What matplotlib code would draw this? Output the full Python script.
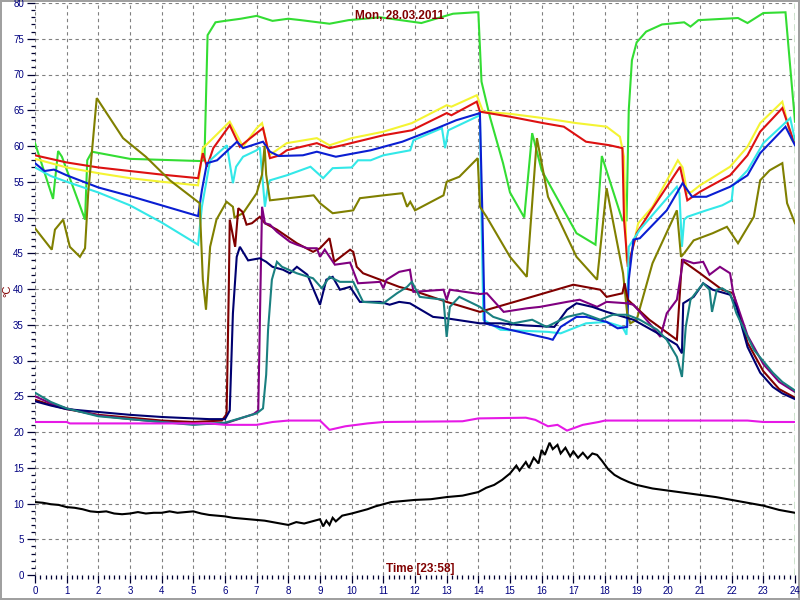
import numpy as np
import matplotlib
matplotlib.use('Agg')
import matplotlib.pyplot as plt
from matplotlib.ticker import MultipleLocator

# hours / temperatures
green_h = [0, 0.57, 0.73, 0.85, 1.58, 1.65, 1.8, 3, 5.2, 5.35, 5.45, 5.7, 6, 6.5, 7, 7.5, 8, 8.4, 9.3, 9.9, 10.9,
           12.2, 13.2, 13.9, 14.0, 14.1, 14.37, 14.78, 15.0, 15.45, 15.7, 16.0, 17.1, 17.7, 17.9, 18.55, 18.68,
           18.75, 18.85, 19.0, 19.3, 19.8, 20.5, 20.7, 20.95, 22.2, 22.5, 23.0, 23.7, 23.85, 24]
green_v = [60.4, 52.6, 59.3, 58.5, 49.7, 58, 59.2, 58.2, 57.9, 58, 75.5, 77.3, 77.5, 77.8, 78.2, 77.5, 77.8, 77.6,
           77.1, 77.6, 78, 77.2, 78.5, 78.7, 78.7, 69, 64, 57.6, 53.5, 50, 61.8, 56.6, 47.8, 46.2, 58.6, 49.6,
           49.6, 65, 72, 74.5, 76, 77, 77.3, 76.7, 77.6, 77.9, 77.2, 78.6, 78.7, 71, 63.4]

yellow_h = [0, 1, 2, 3, 4, 5.15, 5.3, 5.6, 6.15, 6.57, 7.0, 7.17, 7.4, 7.95, 8.9, 9.3, 10, 11, 11.9, 13, 13.15,
            13.95, 14.15, 15, 16.05, 17.1, 18.05, 18.47, 18.6, 18.68, 18.75, 19.05, 19.5, 20.3, 20.45, 20.6,
            20.74, 21, 21.95, 22.5, 22.9, 23.6, 23.9, 24]
yellow_v = [58.2, 57, 56.2, 55.5, 55, 54.5, 59.7, 61, 63.4, 59.9, 62.5, 63.2, 58.7, 60.4, 61.1, 60.1, 61.1, 62,
            63.2, 65.7, 65.5, 67.1, 64.8, 64.5, 63.9, 63.2, 62.7, 61.3, 58.5, 44, 43.3, 49.2, 51.5, 58, 57, 53.4,
            53.6, 54.5, 57.1, 59.9, 63.2, 66.2, 60.8, 60.6]

red_h = [0, 1, 2, 3, 4, 5.15, 5.3, 5.43, 5.63, 6.15, 6.47, 6.8, 7.2, 7.42, 7.73, 7.95, 8.9, 9.3, 9.7, 11, 11.9,
         13, 13.15, 13.95, 14.05, 15, 16.05, 16.7, 17.4, 18.15, 18.55, 18.6, 18.72, 19.0, 19.4, 20.37, 20.6,
         21, 21.95, 22.5, 22.9, 23.6, 23.95, 24]
red_v = [58.7, 57.7, 57.0, 56.5, 56.0, 55.5, 59, 57.1, 59.7, 62.9, 59.9, 61.1, 62.5, 58.3, 58.7, 59.4, 60.4, 59.7,
         60.1, 61.5, 62.2, 64.6, 64.3, 66.2, 64.8, 64.1, 63.2, 62.7, 60.6, 60.1, 59.7, 49.7, 43.1, 47.8, 50.6,
         57.1, 52.4, 53.6, 55.9, 58.7, 62, 65.3, 60.8, 60.5]

cyan_h = [0, 0.5, 1, 2, 3, 4, 5.15, 5.27, 5.53, 6.06, 6.25, 6.35, 6.57, 7.0, 7.1, 7.26, 7.36, 7.42, 7.95, 8.7,
          9.1, 9.4, 10.0, 10.2, 10.6, 11, 11.85, 11.95, 12.85, 12.95, 13.05, 14.05, 14.1, 14.16, 14.7, 16.2,
          16.6, 17.4, 18.05, 18.55, 18.68, 18.75, 19.1, 20.27, 20.35, 20.43, 20.5, 20.6, 21.2, 21.7, 22.0,
          22.05, 22.5, 23, 23.85, 24]
cyan_v = [57, 55.8, 55, 53.5, 51.7, 49.3, 46.2, 51.5, 58, 60.1, 54.8, 57.1, 58.5, 59.4, 59.8, 51.5, 54.5, 55.2,
          55.9, 57.1, 55.5, 56.9, 57, 58, 58, 58.7, 59.4, 60.8, 62.5, 59.7, 62.2, 64.3, 50, 35.7, 34.3, 34,
          33.8, 35.2, 35.4, 34.7, 33.6, 45.9, 48.3, 54.3, 53.4, 45.9, 49.7, 50.1, 51, 51.7, 52.4, 54.5, 56.6,
          60.4, 63.9, 60.8]

blue_h = [0, 0.3, 0.6, 1, 2, 3, 4, 5.15, 5.27, 5.43, 5.75, 6.38, 6.57, 7.2, 7.42, 7.7, 8.46, 8.9, 9.5, 10.6,
          11.6, 12.7, 13.3, 14.05, 14.13, 14.2, 15, 16.2, 16.35, 16.6, 17.1, 17.4, 18.05, 18.4, 18.7, 18.75,
          18.9, 19.1, 19.95, 20.45, 20.75, 21.2, 21.95, 22.5, 22.9, 23.7, 24]
blue_v = [57.6, 56.5, 56.7, 55.9, 54.2, 53, 51.7, 50.2, 53.8, 57.6, 58, 60.6, 59.7, 60.6, 59.2, 58.6, 58.7, 59.2,
          58.5, 59.4, 60.6, 62.5, 63.6, 64.6, 50, 35.2, 34.3, 33.1, 32.9, 34.7, 36.1, 36.1, 35.4, 34.5, 34.7,
          41.3, 46.9, 47.1, 51, 54.8, 52.9, 52.9, 54.3, 55.9, 59, 62.7, 60.1]

olive_h = [0, 0.53, 0.63, 0.89, 1.1, 1.42, 1.58, 1.68, 1.95, 2.78, 3.5, 4.26, 5.2, 5.3, 5.4, 5.53, 5.73, 6.05,
           6.25, 6.3, 6.57, 7.0, 7.17, 7.25, 7.3, 7.42, 8.8, 9, 9.4, 10.05, 10.26, 11, 11.6, 11.75, 11.85, 12,
           12.9, 13, 13.4, 13.98, 14.05, 14.26, 15, 15.53, 15.6, 15.85, 16.2, 17.1, 17.75, 18.05, 18.57, 18.7,
           18.8, 19, 19.5, 20.27, 20.4, 20.5, 20.8, 21.4, 21.85, 22.2, 22.7, 22.9, 23.2, 23.6, 23.75, 24]
olive_v = [48.5, 45.5, 48.3, 49.7, 45.9, 44.5, 45.7, 53.4, 66.7, 61.1, 58.5, 55.2, 52, 41.3, 37.1, 45.9, 49.7,
           52.2, 51.5, 50, 50.6, 53.4, 56, 60, 56, 52.4, 53.1, 52, 50.6, 51, 52.7, 53.1, 53.4, 51.5, 52.2, 51,
           53.1, 55, 55.7, 58.3, 51.5, 50.1, 44.5, 41.7, 45.9, 61.1, 52.9, 44.5, 41.3, 54.1, 42.2, 36.6, 35.2,
           35.7, 43.6, 51, 44.5, 45, 46.8, 47.8, 48.7, 46.4, 50.1, 55.2, 56.6, 57.6, 52, 49.2]

maroon_h = [0, 0.5, 1, 2, 3, 4, 5, 5.9, 6.05, 6.12, 6.15, 6.32, 6.42, 6.55, 6.68, 6.85, 7.1, 7.26, 7.64, 8.27,
            8.78, 9.0, 9.3, 9.45, 9.95, 10.05, 10.16, 10.36, 11.5, 11.84, 12.06, 13.0, 14.05, 15.53, 17.0, 17.85,
            18.05, 18.55, 18.62, 18.72, 19.4, 20.27, 20.43, 21.0, 21.7, 22.05, 22.5, 23, 23.5, 24]
maroon_v = [24.5, 23.8, 23.2, 22.4, 22, 21.6, 21.4, 21.6, 22.5, 40, 49.7, 45.9, 51.3, 50.8, 49, 49.2, 50.1, 49.2,
            48.3, 46.4, 45.2, 45.7, 47.1, 43.8, 45.5, 45.2, 43.1, 42.2, 40.3, 39.9, 39.6, 38.2, 36.8, 38.7, 40.6,
            39.9, 38.9, 39.4, 40.8, 38.5, 35.7, 32.9, 44, 42.2, 39.9, 39.4, 32.5, 28.5, 26, 24.8]

purple_h = [0, 0.5, 1, 2, 3, 4, 5, 6, 6.9, 7.05, 7.12, 7.17, 7.26, 7.42, 7.64, 8.05, 8.27, 8.6, 8.9, 9.0, 9.15,
            9.47, 9.95, 10.2, 10.9, 11.0, 11.1, 11.5, 11.84, 11.95, 12.9, 13.0, 13.1, 14.05, 14.27, 14.8, 15.53,
            15.95, 16.8, 17.2, 17.75, 18.05, 18.7, 18.9, 19.5, 19.75, 19.95, 20.27, 20.47, 20.8, 21.1, 21.3,
            21.63, 21.95, 22.05, 22.5, 23, 23.5, 24]
purple_v = [25, 24, 23.3, 22.3, 21.8, 21.4, 21.1, 21.2, 22.5, 23, 40, 51.5, 49.2, 49, 48, 46.6, 46.2, 45.7, 45.7,
            44.5, 45.5, 43.4, 43.7, 40.8, 41, 40.1, 41.3, 42.4, 42.7, 39.6, 39.9, 38.5, 39.9, 39.3, 39.4, 36.8,
            37.3, 37.5, 38.2, 38.5, 37.5, 38.2, 38, 37.8, 34.7, 33.3, 36.6, 38.5, 44.1, 43.6, 43.8, 42, 43.1,
            42.2, 39.4, 33.5, 29.5, 27, 25.6]

navy_h = [0, 0.5, 1, 2, 3, 4, 5, 5.5, 6.0, 6.15, 6.25, 6.37, 6.47, 6.73, 7.1, 7.3, 7.5, 7.83, 8.05, 8.27, 8.45,
          8.6, 8.8, 9.0, 9.2, 9.4, 9.63, 9.95, 10.26, 10.9, 11.2, 11.5, 11.84, 12.57, 13, 14.05, 14.7, 15.5,
          16.4, 16.8, 17.1, 17.6, 18.05, 18.9, 19.75, 20.27, 20.43, 20.47, 20.8, 21.1, 21.4, 21.95, 22.15,
          22.5, 22.9, 23.3, 23.6, 24]
navy_v = [24.3, 23.7, 23.2, 22.8, 22.4, 22.1, 21.9, 21.8, 21.8, 23, 36.6, 44.5, 45.9, 44, 44.3, 43.8, 43.1, 42.7,
          42.2, 43.1, 42.5, 42, 39.9, 37.8, 41.3, 41.7, 39.9, 40.3, 38.2, 38.2, 37.8, 38.2, 38, 36.1, 35.9,
          35.2, 35.2, 34.9, 34.7, 37.1, 38, 37.5, 36.8, 35.7, 33.6, 32.2, 31, 38, 38.9, 40.8, 39.9, 39.2, 37.5,
          31.9, 28.3, 26.3, 25.4, 24.6]

teal_h = [0, 0.5, 1, 2, 3, 4, 5, 6, 7, 7.2, 7.3, 7.36, 7.48, 7.64, 7.8, 8.27, 8.78, 9.06, 9.3, 9.63, 10.05,
          10.36, 11, 11.43, 11.75, 11.9, 12.15, 12.9, 13.0, 13.1, 13.4, 14.05, 14.47, 15.1, 15.7, 16.15, 16.8,
          17.3, 17.85, 18.25, 18.7, 19.1, 19.65, 19.95, 20.27, 20.43, 20.55, 20.7, 21.1, 21.3, 21.38, 21.53,
          21.7, 21.95, 22.15, 22.7, 23.3, 23.6, 24]
teal_v = [25.5, 24.2, 23.3, 22.2, 21.8, 21.4, 21.0, 21.3, 22.6, 23.3, 28, 34.3, 41.3, 43.8, 43.1, 42.2, 41.5,
          40.1, 41.7, 41, 41, 38.2, 38, 39.4, 40.3, 41, 38.9, 38.5, 33.3, 37.5, 38.9, 37.5, 36.1, 35.2, 35.7,
          34.7, 36.1, 36.6, 35.7, 36.4, 36.4, 35.7, 34.3, 32.9, 30.5, 27.7, 34.7, 38.5, 40.8, 39.9, 36.8, 39.9,
          40.1, 39.4, 36.6, 31.5, 28.3, 27, 25.8]

magenta_h = [0, 1, 1.1, 5.5, 6.0, 7.0, 7.5, 8, 9.0, 9.3, 9.8, 10.5, 11, 13.5, 14, 15.5, 15.8, 16.2, 16.5, 16.8,
             17.3, 17.8, 18, 22.5, 23, 24]
magenta_v = [21.4, 21.4, 21.2, 21.2, 21.0, 21.0, 21.4, 21.6, 21.6, 20.3, 20.8, 21.2, 21.4, 21.5, 21.9, 22.0,
             21.7, 20.8, 21.0, 20.2, 21.0, 21.4, 21.6, 21.6, 21.4, 21.4]

black_h = [0, 0.25, 0.5, 0.75, 1.0, 1.25, 1.5, 1.75, 2.0, 2.25, 2.5, 2.75, 3.0, 3.25, 3.5, 3.75, 4.0, 4.25, 4.5,
           4.75, 5.0, 5.25, 5.5, 5.75, 6.0, 6.25, 6.5, 6.75, 7.0, 7.25, 7.5, 7.75, 8.0, 8.25, 8.5, 8.75, 9.0,
           9.1, 9.2, 9.3, 9.4, 9.5, 9.7, 10.0, 10.25, 10.5, 10.75, 11.0, 11.25, 11.5, 11.75, 12, 12.5, 13,
           13.5, 14, 14.25, 14.5, 14.75, 15, 15.2, 15.3, 15.5, 15.6, 15.75, 15.9, 16.0, 16.1, 16.25, 16.35,
           16.5, 16.6, 16.75, 16.9, 17.0, 17.15, 17.3, 17.45, 17.6, 17.75, 17.9, 18.1, 18.3, 18.5, 18.75, 19,
           19.5, 20, 20.5, 21, 21.5, 22, 22.5, 23, 23.5, 24]
black_v = [10.2, 10.1, 9.9, 9.8, 9.5, 9.4, 9.2, 8.9, 8.8, 8.9, 8.6, 8.5, 8.6, 8.8, 8.6, 8.7, 8.7, 8.9, 8.7, 8.8,
           8.9, 8.6, 8.4, 8.3, 8.2, 8.0, 7.9, 7.8, 7.7, 7.6, 7.4, 7.2, 7.0, 7.4, 7.2, 7.5, 7.8, 6.8, 7.6, 7.0,
           8.0, 7.5, 8.3, 8.6, 8.9, 9.2, 9.6, 9.9, 10.2, 10.3, 10.4, 10.5, 10.6, 10.9, 11.1, 11.6, 12.2, 12.6,
           13.3, 14.2, 15.3, 14.6, 15.8, 15.0, 16.4, 15.6, 17.5, 16.8, 18.5, 17.6, 18.2, 17.0, 17.8, 16.6,
           17.3, 16.4, 17.1, 16.3, 17.0, 16.8, 16.0, 14.8, 14.0, 13.5, 13.0, 12.6, 12.1, 11.8, 11.5, 11.2,
           10.9, 10.5, 10.1, 9.7, 9.1, 8.7]

series = [
    (green_h, green_v, '#33dd33'),
    (yellow_h, yellow_v, '#f4f433'),
    (red_h, red_v, '#dd1111'),
    (cyan_h, cyan_v, '#33e8e8'),
    (blue_h, blue_v, '#0a1ed2'),
    (olive_h, olive_v, '#808000'),
    (maroon_h, maroon_v, '#800000'),
    (purple_h, purple_v, '#800080'),
    (navy_h, navy_v, '#000070'),
    (teal_h, teal_v, '#1a8080'),
    (magenta_h, magenta_v, '#e619e6'),
    (black_h, black_v, '#000000'),
]

fig = plt.figure(figsize=(8, 6), dpi=100)
fig.patch.set_edgecolor('#a0a0a0')
fig.patch.set_linewidth(1.5)
ax = fig.add_axes([35 / 800, 25 / 600, 760 / 800, 572 / 600])

for h, v, c in series:
    ax.plot(h, v, color=c, lw=1.5, solid_joinstyle='miter')

ax.set_xlim(0, 24)
ax.set_ylim(0, 80)
ax.xaxis.set_major_locator(MultipleLocator(1))
ax.xaxis.set_minor_locator(MultipleLocator(1 / 6))
ax.yaxis.set_major_locator(MultipleLocator(5))
ax.yaxis.set_minor_locator(MultipleLocator(1))
ax.grid(True, which='major', color='#808080', linestyle=(0, (3, 3)), linewidth=0.8)
ax.set_axisbelow(True)
for s in ax.spines.values():
    s.set_visible(False)
ax.tick_params(which='major', length=6, width=0.9, color='#000030', labelcolor='#000080',
               labelsize=7, pad=2)
ax.tick_params(which='minor', length=3, width=0.9, color='#000030')
for lab in ax.get_xticklabels() + ax.get_yticklabels():
    lab.set_family('Liberation Sans')

# current time marker
ax.axvline(24, color='#1a801a', linestyle=(0, (5, 3)), lw=1)

ax.text(0.48, 0.977, 'Mon, 28.03.2011', transform=ax.transAxes, ha='center', va='center',
        color='#800000', fontsize=8.5, fontweight='bold', family='Liberation Sans')
ax.text(0.507, 0.011, 'Time [23:58]', transform=ax.transAxes, ha='center', va='center',
        color='#800000', fontsize=8.5, fontweight='bold', family='Liberation Sans')
fig.text(7 / 800, 0.515, '°C', rotation=90, ha='center', va='center', color='#800000', fontsize=8,
         family='Liberation Sans')

fig.savefig('out.png', dpi=100, edgecolor=fig.get_edgecolor())
